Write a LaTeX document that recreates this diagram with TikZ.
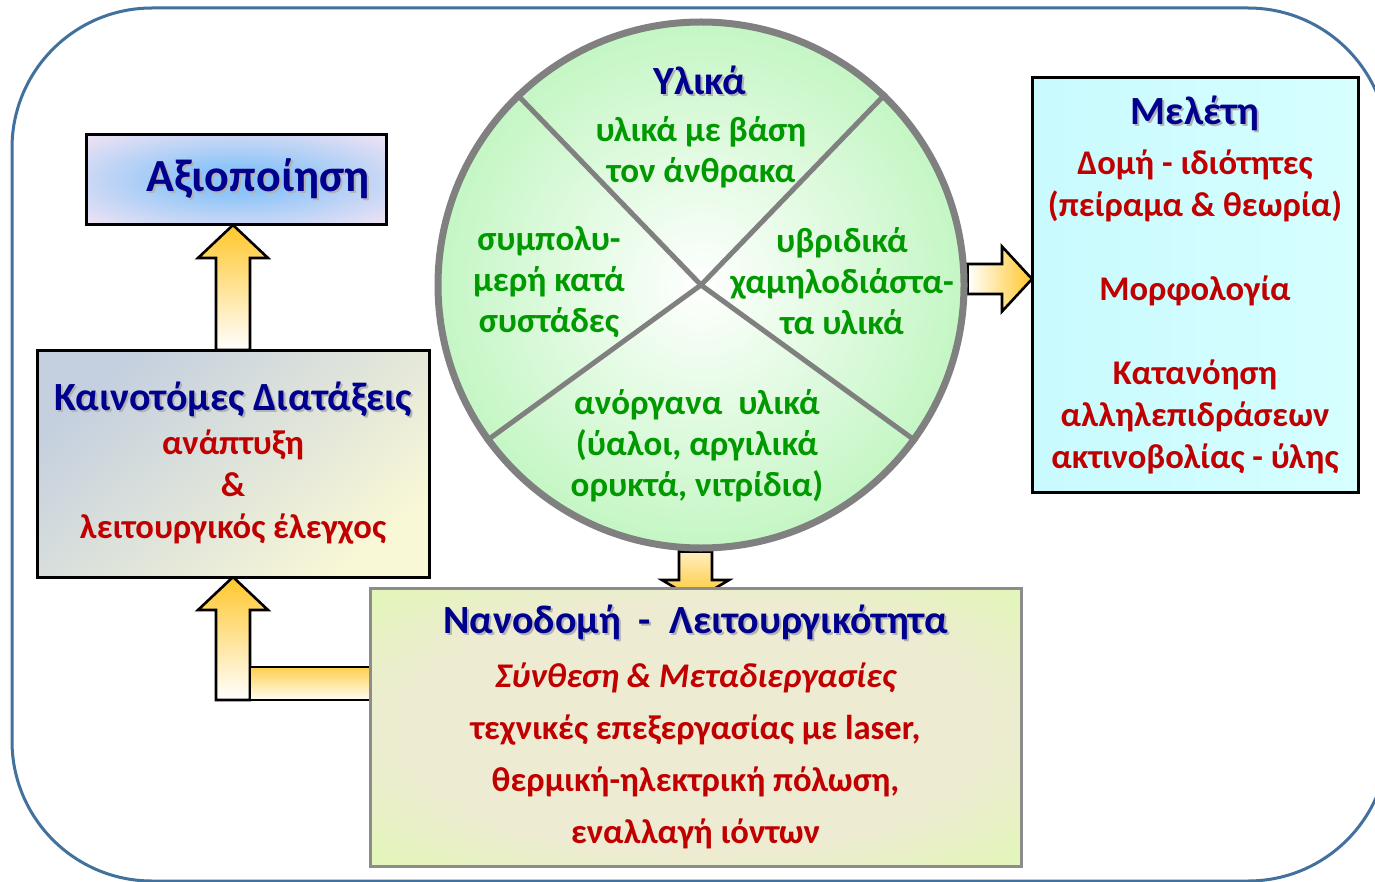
\documentclass[tikz,border=0pt]{standalone}
\usepackage{fontspec}
\setmainfont{Carlito}
\usetikzlibrary{calc,backgrounds}
\definecolor{navyt}{HTML}{00008F}
\definecolor{redt}{HTML}{C00000}
\definecolor{greent}{HTML}{009900}
\definecolor{framec}{HTML}{41719C}
\definecolor{arryel}{HTML}{FFC72C}
\definecolor{nanoin}{HTML}{EEEBD3}
\definecolor{nanoout}{HTML}{E0F9B2}
\definecolor{axioin}{HTML}{8EC5F8}
\definecolor{axioout}{HTML}{F3E4F3}
\definecolor{kaintop}{HTML}{C4CFDF}
\definecolor{kainmid}{HTML}{D3DDF7}
\definecolor{kainbot}{HTML}{F8F7D6}
\definecolor{meleta}{HTML}{C9FAFE}
\definecolor{meletb}{HTML}{D6FFFF}
\definecolor{wheelout}{HTML}{C4F6C4}
\pgfdeclareradialshading{nanoglow}{\pgfpoint{0bp}{0bp}}{color(0bp)=(nanoin); color(22bp)=(nanoin); color(38bp)=(nanoout); color(72bp)=(nanoout)}
\pgfdeclareradialshading{axioglow}{\pgfpoint{0bp}{0bp}}{color(0bp)=(axioin); color(8bp)=(axioin); color(36bp)=(axioout); color(72bp)=(axioout)}
\newcommand\shd[1]{\makebox[0pt][l]{\kern1pt\raisebox{-1pt}{\textcolor{black!30}{#1}}}\textcolor{navyt}{#1}}
\newcommand\ttl{\fontsize{20}{21}\selectfont}
\tikzstyle{box} = [line width=1.5pt, align=center, inner sep=0pt, outer sep=0pt,
   text=redt, font=\fontsize{17.3}{21}\selectfont\bfseries]
\tikzstyle{wheeltext} = [align=center, text=greent, font=\fontsize{17.5}{20.5}\selectfont\bfseries]
\tikzstyle{fatup} = [draw=black, line width=1.3pt, top color=arryel, bottom color=white,
   to path={let \p1=(\tikztostart), \p2=(\tikztotarget) in
   (\x1-8.5pt,\y1) -- (\x1-8.5pt,\y2-16.5pt) -- (\x1-17.5pt,\y2-16.5pt) -- (\x1,\y2)
   -- (\x1+17.5pt,\y2-16.5pt) -- (\x1+8.5pt,\y2-16.5pt) -- (\x1+8.5pt,\y1) -- cycle}]
\tikzstyle{fatright} = [draw=black, line width=1.3pt, left color=white, right color=arryel,
   to path={let \p1=(\tikztostart), \p2=(\tikztotarget) in
   (\x1,\y1+7.5pt) -- (\x2-15pt,\y1+7.5pt) -- (\x2-15pt,\y1+16.25pt) -- (\x2,\y1)
   -- (\x2-15pt,\y1-16.25pt) -- (\x2-15pt,\y1-7.5pt) -- (\x1,\y1-7.5pt) -- cycle}]
\tikzstyle{fatdown} = [draw=black, line width=1.3pt, top color=arryel!30, bottom color=arryel,
   to path={let \p1=(\tikztostart), \p2=(\tikztotarget) in
   (\x2-8.25pt,\y1) -- (\x2-8.25pt,\y2+10pt) -- (\x2-16.75pt,\y2+10pt) -- (\x2,\y2)
   -- (\x2+16.75pt,\y2+10pt) -- (\x2+8.25pt,\y2+10pt) -- (\x2+8.25pt,\y1) -- cycle}]
\tikzstyle{fatbar} = [draw=black, line width=1.3pt, top color=arryel!85, bottom color=arryel!5]

\begin{document}
\begin{tikzpicture}[x=0.5pt,y=-0.5pt]
  \useasboundingbox (0,0) rectangle (1375,882);
  % boxes
  \node[box, draw=black, shade, shading=axioglow, minimum width=150pt, minimum height=45pt]
     (axio) at (236,180) {\hspace*{22pt}\fontsize{23}{24}\selectfont\shd{Αξιοποίηση}};
  \node[box, draw=black, top color=kaintop, middle color=kainmid, bottom color=kainbot,
     shading angle=40, minimum width=196pt, minimum height=113.5pt] (kain) at (233,463.5)
     {{\ttl\shd{Καινοτόμες Διατάξεις}}\\[1pt]ανάπτυξη\\\&\\λειτουργικός έλεγχος};
  \node[box, draw=black, left color=meleta, right color=meletb,
     minimum width=163pt, minimum height=207pt] (melet) at (1195,285)
     {{\ttl\shd{Μελέτη}}\\[4pt]Δομή - ιδιότητες\\(πείραμα \& θεωρία)\\[21pt]Μορφολογία\\[21pt]%
      Κατανόηση\\αλληλεπιδράσεων\\ακτινοβολίας - ύλης};
  \node[box, draw=black!45, shade, shading=nanoglow, minimum width=325.5pt, minimum height=139pt,
     font=\fontsize{17.3}{26}\selectfont\bfseries] (nano) at (695.5,727)
     {{\ttl\shd{Νανοδομή\ \ -\ \ Λειτουργικότητα}}\\[1pt]{\itshape Σύνθεση \& Μεταδιεργασίες}\\%
      τεχνικές επεξεργασίας με laser,\\θερμική-ηλεκτρική πόλωση,\\εναλλαγή ιόντων};
  % the wheel of materials
  \node[circle, draw=black!50, line width=3.5pt, inner color=white, outer color=wheelout,
     minimum size=263pt] (ylika) at (701,285) {};
  \foreach \a in {46,134,216,324}
    \draw[black!50, line width=2.5pt] (ylika.center) -- (ylika.\a);
  \node[font=\bfseries] (ttlyl) at (700,81) {\ttl\shd{Υλικά}};
  \node[wheeltext] (carb) at (701,152) {υλικά με βάση\\τον άνθρακα};
  \node[wheeltext] (copo) at (549,282) {συμπολυ-\\μερή κατά\\συστάδες};
  \node[wheeltext] (hybr) at (842,281) {υβριδικά\\χαμηλοδιάστα-\\τα υλικά};
  \node[wheeltext] (inorg) at (697,446) {ανόργανα\ \ υλικά\\(ύαλοι, αργιλικά\\ορυκτά, νιτρίδια)};
  \coordinate (elbow) at ($(nano.north west)+(0,112)$);
  \begin{scope}[on background layer]
    \fill[white] (0,0) rectangle (1375,882);
    \draw[framec, line width=1.5pt, rounded corners=70pt] (12,8) rectangle (1388,881);
    \draw[fatup] (kain.north) to (axio.south);
    \draw[fatup] (kain.south |- elbow) to (kain.south);
    \draw[fatbar] (nano.west |- elbow) rectangle ($(kain.south |- elbow)+(17,-33)$);
    \draw[fatright] ([yshift=3pt]ylika.east) to (melet.west);
    \draw[fatdown] (ylika.south) to ([yshift=-6pt]nano.north);
  \end{scope}
\end{tikzpicture}
\end{document}
